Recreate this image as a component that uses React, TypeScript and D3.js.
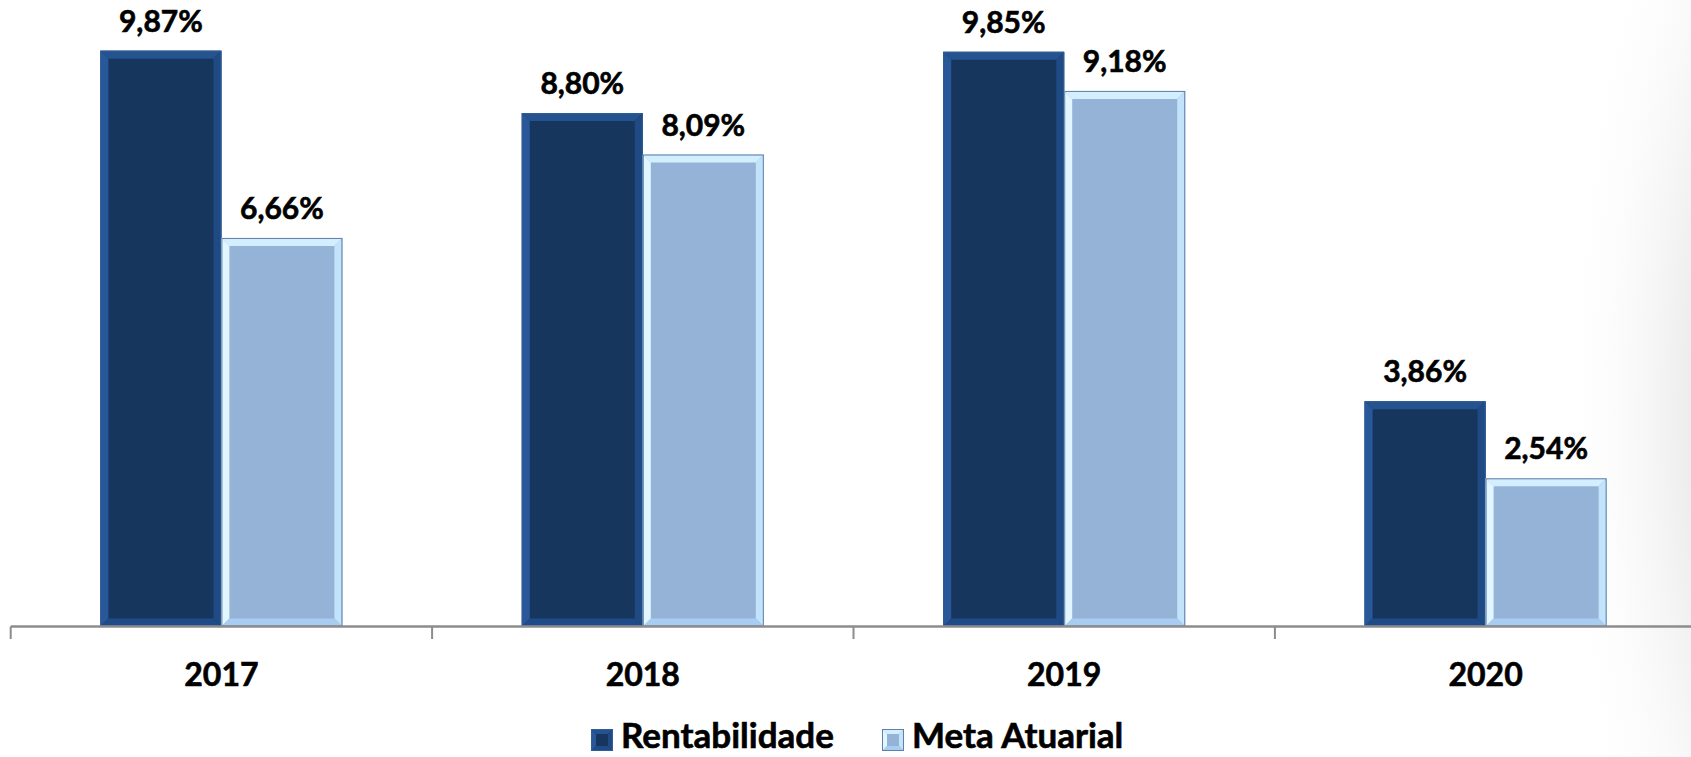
import { useEffect } from 'react';
import * as d3 from 'd3';

const years = ['2017', '2018', '2019', '2020'];
const seriesNames = ['Rentabilidade', 'Meta Atuarial'];
const rentabilidade = [9.87, 8.80, 9.85, 3.86];
const metaAtuarial = [6.66, 8.09, 9.18, 2.54];
const valueLabels = [
  ['9,87%', '8,80%', '9,85%', '3,86%'],
  ['6,66%', '8,09%', '9,18%', '2,54%'],
];

const W = 1691;
const H = 757;
const FONT = 'Lato, "Open Sans", sans-serif';

// bevel shades: inner, top, left, right, bottom, outline
const palettes = [
  { inner: '#17365d', top: '#25538f', left: '#28579a', right: '#1f4a84', bottom: '#1f4c88', line: '#2f5d96' },
  { inner: '#95b3d7', top: '#d3efff', left: '#e2f6ff', right: '#c2e3fa', bottom: '#a9cdf2', line: '#5f80a8' },
];

const Bar = ({ x0, y0, x1, y1, p, b = 8 }: { x0: number; y0: number; x1: number; y1: number; p: typeof palettes[0]; b?: number }) => {
  const pts = (a: number[][]) => a.map(d => d.join(',')).join(' ');
  return (
    <g>
      <rect x={x0} y={y0} width={x1 - x0} height={y1 - y0} fill={p.inner} />
      <polygon points={pts([[x0, y0], [x1, y0], [x1 - b, y0 + b], [x0 + b, y0 + b]])} fill={p.top} />
      <polygon points={pts([[x0, y0], [x0 + b, y0 + b], [x0 + b, y1 - b], [x0, y1]])} fill={p.left} />
      <polygon points={pts([[x1, y0], [x1, y1], [x1 - b, y1 - b], [x1 - b, y0 + b]])} fill={p.right} />
      <polygon points={pts([[x0, y1], [x0 + b, y1 - b], [x1 - b, y1 - b], [x1, y1]])} fill={p.bottom} />
      <rect x={x0 + 0.5} y={y0 + 0.5} width={x1 - x0 - 1} height={y1 - y0 - 1} fill="none" stroke={p.line} strokeWidth={1} />
    </g>
  );
};

export default function App() {
  useEffect(() => {
    document.body.style.margin = '0';
  }, []);

  const axisY = 626.5;
  const x = d3.scaleBand<string>().domain(years).range([10.7, 10.7 + 4 * 421.4]).padding(0);
  const x1 = d3.scaleBand<string>().domain(seriesNames).range([0, x.bandwidth()]).paddingInner(0).paddingOuter(0.741);
  const y = d3.scaleLinear().domain([0, 10]).range([axisY, axisY - 583.4]);

  const series = [rentabilidade, metaAtuarial];
  const legendX = [591, 882];

  return (
    <svg width={W} height={H} style={{ display: 'block' }}>
      <defs>
        <radialGradient id="shade" cx="1.5" cy="0.55" r="1" gradientUnits="objectBoundingBox">
          <stop offset="0.5" stopColor="#ececec" stopOpacity={1} />
          <stop offset="1" stopColor="#ffffff" stopOpacity={0} />
        </radialGradient>
      </defs>
      <rect width={W} height={H} fill="#fff" />
      <rect x={1420} y={0} width={271} height={H} fill="url(#shade)" />

      {years.map((yr, i) =>
        series.map((vals, s) => {
          const bx = (x(yr) ?? 0) + (x1(seriesNames[s]) ?? 0);
          const bw = x1.bandwidth();
          const top = y(vals[i]);
          return (
            <g key={yr + s}>
              <Bar x0={bx} y0={top} x1={bx + bw} y1={axisY} p={palettes[s]} />
              <text
                x={bx + bw / 2}
                y={top - 19}
                textAnchor="middle"
                fontFamily={FONT}
                fontWeight="bold"
                fontSize={30}
                fill="#000"
                stroke="#000"
                strokeWidth={0.6}
              >
                {valueLabels[s][i]}
              </text>
            </g>
          );
        })
      )}

      {/* axis */}
      <line x1={10.7} x2={W} y1={axisY} y2={axisY} stroke="#8c8c8c" strokeWidth={2.5} />
      {[...years.map(yr => x(yr) ?? 0), (x(years[3]) ?? 0) + x.bandwidth()].map((tx, i) => (
        <line key={i} x1={tx} x2={tx} y1={axisY} y2={639} stroke="#8c8c8c" strokeWidth={2} />
      ))}
      {years.map(yr => (
        <text
          key={yr}
          x={(x(yr) ?? 0) + x.bandwidth() / 2}
          y={686}
          textAnchor="middle"
          fontFamily={FONT}
          fontWeight="bold"
          fontSize={32}
          fill="#000"
          stroke="#000"
          strokeWidth={0.6}
        >
          {yr}
        </text>
      ))}

      {/* legend */}
      {seriesNames.map((name, s) => (
        <g key={name}>
          <Bar x0={legendX[s]} y0={729} x1={legendX[s] + 22} y1={751} p={palettes[s]} b={5} />
          <text
            x={legendX[s] + 30}
            y={748}
            fontFamily={FONT}
            fontWeight="bold"
            fontSize={35}
            fill="#000"
            stroke="#000"
            strokeWidth={0.6}
          >
            {name}
          </text>
        </g>
      ))}
    </svg>
  );
}
